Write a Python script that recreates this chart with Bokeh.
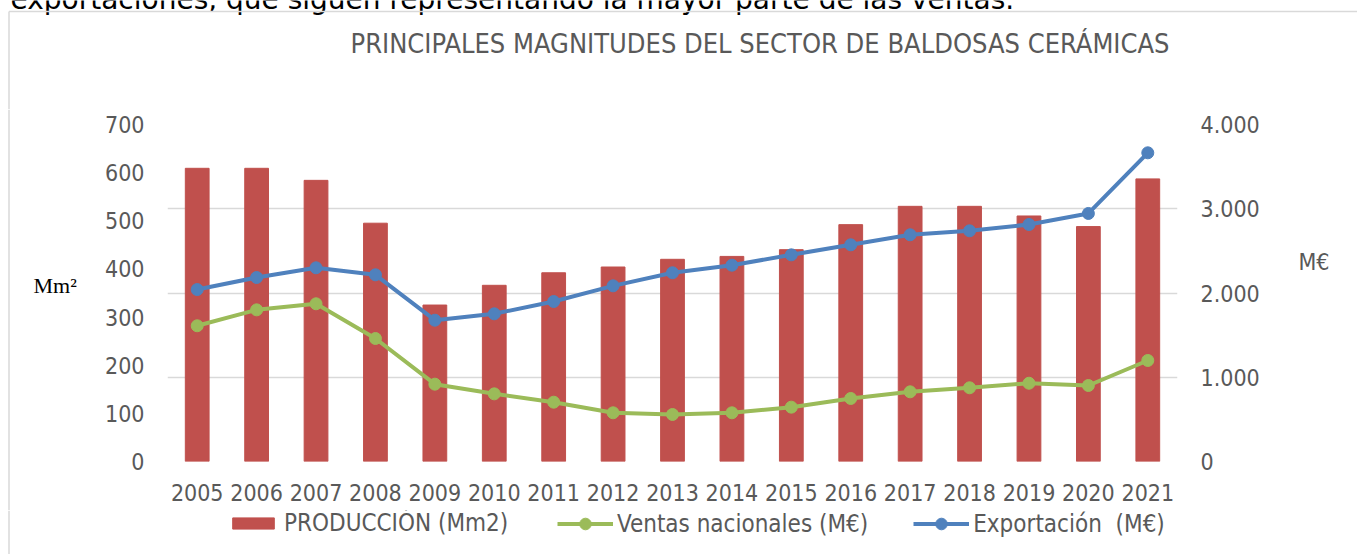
from bokeh.plotting import figure
from bokeh.layouts import column, row
from bokeh.models import Range1d, LinearAxis, FixedTicker, Legend, LegendItem
from bokeh.core.properties import value
from bokeh.embed import file_html
from bokeh.resources import INLINE

# ---- data ----
years = ["2005", "2006", "2007", "2008", "2009", "2010", "2011", "2012", "2013",
         "2014", "2015", "2016", "2017", "2018", "2019", "2020", "2021"]
produccion = [609, 609, 584, 495, 325, 366, 392, 404, 420, 426, 440, 492, 530, 530, 510, 488, 587]
ventas = [1611, 1800, 1872, 1460, 918, 803, 704, 578, 558, 578, 645, 748, 827, 875, 929, 902, 1199]
exportacion = [2041, 2184, 2299, 2216, 1677, 1753, 1899, 2085, 2240, 2330, 2453, 2572, 2691, 2738, 2813, 2944, 3664]
left_ticks = [0, 100, 200, 300, 400, 500, 600, 700]
right_ticks = [0, 1000, 2000, 3000, 4000]
right_tick_labels = ["0", "1.000", "2.000", "3.000", "4.000"]
series_labels = ["PRODUCCIÓN (Mm2)", "Ventas nacionales (M€)", "Exportación  (M€)"]
title_text = ["PRINCIPALES MAGNITUDES DEL SECTOR DE BALDOSAS CERÁMICAS"]
top_text = ["exportaciones, que siguen representando la mayor parte de las ventas."]
left_unit = ["Mm²"]
right_unit = ["M€"]

FONT = "DejaVu Sans Condensed"
GRAY = "#595959"
RED = "#c0504d"
GREEN = "#9bbb59"
BLUE = "#4f81bd"
BORDER = "#d9d9d9"

W, H = 1357, 554
HEADER_H = 109      # page y where the chart row starts
FOOT_Y = 510        # page y where the legend strip starts
LEFT_W = 95
RIGHT_X = 1265
ROW_H = FOOT_Y - HEADER_H


def bare(width, height, x0, x1, y0, y1):
    # a plain panel whose data coordinates equal page pixels
    f = figure(width=width, height=height, x_range=Range1d(x0, x1), y_range=Range1d(y1, y0),
               output_backend="svg", toolbar_location=None,
               x_axis_type=None, y_axis_type=None, min_border=0)
    f.outline_line_color = None
    f.xgrid.visible = False
    f.ygrid.visible = False
    return f


def no_align(f):
    try:
        f.frame_align = False
    except Exception:
        pass


# ---- header ----
header = bare(W, HEADER_H, 0, W, 0, HEADER_H)
header.text(x=[10], y=[-1], text=top_text, text_font=value("DejaVu Sans"),
            text_font_size="28px", text_color="black", text_baseline="middle")
header.text(x=[759.5], y=[42.5], text=title_text, text_font=value(FONT),
            text_font_size="27px", text_color=GRAY, text_align="center",
            text_baseline="middle")
header.segment(x0=[8.5], y0=[11], x1=[W], y1=[11], line_color=BORDER, line_width=1.5)
header.segment(x0=[8.5], y0=[11], x1=[8.5], y1=[HEADER_H], line_color=BORDER, line_width=1.5)

# ---- left strip ----
lstrip = bare(LEFT_W, ROW_H, 0, LEFT_W, HEADER_H, FOOT_Y)
no_align(lstrip)
lstrip.line(x=[8.5, 8.5], y=[HEADER_H, FOOT_Y], line_color=BORDER, line_width=1.5)
lstrip.text(x=[33], y=[285], text=left_unit, text_font=value("Liberation Serif"),
            text_font_size="22px", text_color="black", text_baseline="middle")

# ---- right strip ----
rstrip = bare(W - RIGHT_X, ROW_H, RIGHT_X, W, HEADER_H, FOOT_Y)
no_align(rstrip)
rstrip.text(x=[1298], y=[261], text=right_unit, text_font=value(FONT),
            text_font_size="23px", text_color=GRAY, text_baseline="middle")

# ---- main chart ----
idx = list(range(len(years)))  # category positions

p = figure(width=RIGHT_X - LEFT_W, height=ROW_H,
           x_range=Range1d(-0.5, len(years) - 0.5),
           y_range=Range1d(0, 700),
           output_backend="svg", toolbar_location=None,
           min_border_left=167 - LEFT_W, min_border_right=RIGHT_X - 1177,
           min_border_top=124 - HEADER_H, min_border_bottom=FOOT_Y - 461)
no_align(p)
p.extra_y_ranges = {"right": Range1d(0, 4000)}
p.outline_line_color = None


def style_axis(ax, size="23px"):
    ax.axis_line_color = None
    ax.major_tick_line_color = None
    ax.minor_tick_line_color = None
    ax.major_tick_out = 0
    ax.major_tick_in = 0
    ax.major_label_text_font = FONT
    ax.major_label_text_font_size = size
    ax.major_label_text_color = GRAY


p.yaxis.ticker = FixedTicker(ticks=left_ticks)
style_axis(p.yaxis[0])
p.yaxis.major_label_standoff = 23

p.xaxis.ticker = FixedTicker(ticks=idx)
p.xaxis.major_label_overrides = dict(zip(idx, years))
style_axis(p.xaxis[0])
p.xaxis.major_label_standoff = 22

raxis = LinearAxis(y_range_name="right", ticker=FixedTicker(ticks=right_ticks),
                   major_label_overrides=dict(zip(right_ticks, right_tick_labels)))
style_axis(raxis)
raxis.major_label_standoff = 23
p.add_layout(raxis, "right")

p.xgrid.visible = False
p.ygrid.y_range_name = "right"
p.ygrid.ticker = FixedTicker(ticks=right_ticks)
p.ygrid.grid_line_color = BORDER
p.ygrid.grid_line_width = 1.4

MS = 12
p.vbar(x=idx, top=produccion, width=0.4, fill_color=RED, line_color=RED)
p.line(idx, ventas, y_range_name="right", line_color=GREEN, line_width=4)
p.scatter(idx, ventas, y_range_name="right", size=MS, fill_color=GREEN, line_color=GREEN)
p.line(idx, exportacion, y_range_name="right", line_color=BLUE, line_width=4)
p.scatter(idx, exportacion, y_range_name="right", size=MS, fill_color=BLUE, line_color=BLUE)

# ---- legend strip: the same series on ranges that keep them out of view,
#      so only their legend swatches show ----
footer = bare(W, H - FOOT_Y, 0, W, FOOT_Y, H)
footer.extra_x_ranges = {"hidden": Range1d(-1000, -900)}
footer.extra_y_ranges = {"hidden": Range1d(-100000, -99000)}
footer.line(x=[8.5, 8.5], y=[FOOT_Y, H], line_color=BORDER, line_width=1.5)
hid = dict(x_range_name="hidden", y_range_name="hidden")
kb = footer.vbar(x=idx, top=produccion, width=0.4, fill_color=RED, line_color=RED, **hid)
kvl = footer.line(idx, ventas, line_color=GREEN, line_width=4, **hid)
kvs = footer.scatter(idx, ventas, size=MS, fill_color=GREEN, line_color=GREEN, **hid)
kel = footer.line(idx, exportacion, line_color=BLUE, line_width=4, **hid)
kes = footer.scatter(idx, exportacion, size=MS, fill_color=BLUE, line_color=BLUE, **hid)

common = dict(orientation="horizontal", padding=0, margin=0, border_line_color=None,
              background_fill_alpha=0, label_text_font=FONT,
              label_text_font_size="24px", label_text_color=GRAY)
legend_bar = Legend(items=[LegendItem(label=series_labels[0], renderers=[kb])],
                    location=(227, 17), glyph_width=52, glyph_height=14,
                    label_standoff=5, **common)
legend_lines = Legend(items=[LegendItem(label=series_labels[1], renderers=[kvl, kvs]),
                             LegendItem(label=series_labels[2], renderers=[kel, kes])],
                      location=(557, 16), glyph_width=56, glyph_height=29,
                      label_standoff=4, spacing=45, **common)
footer.add_layout(legend_bar)
footer.add_layout(legend_lines)

layout = column(header, row(lstrip, p, rstrip), footer)
open("out.html", "w").write(file_html(layout, INLINE))
